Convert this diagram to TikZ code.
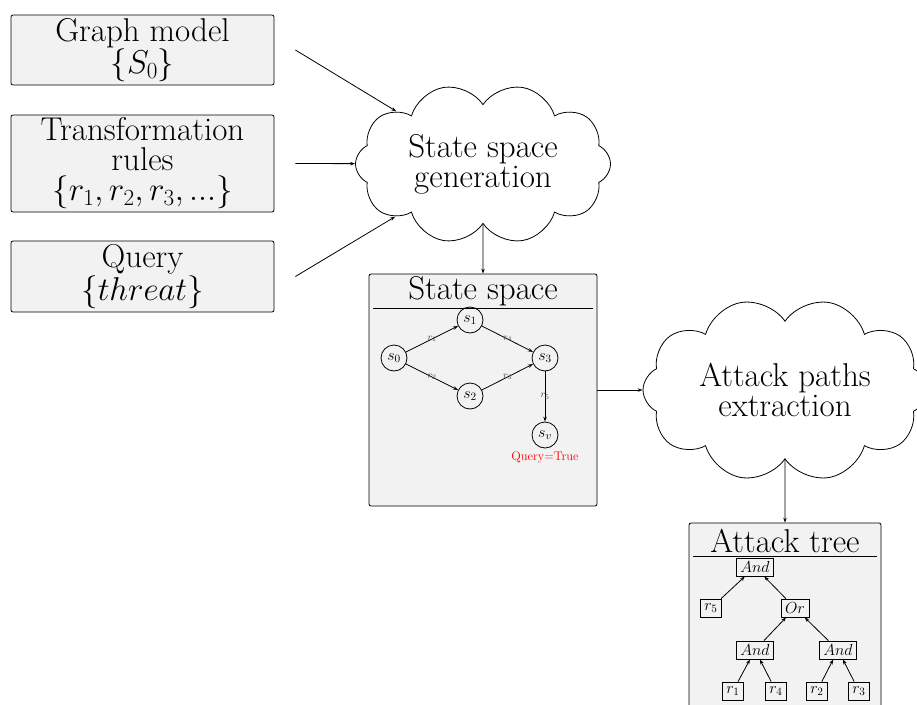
\RequirePackage{fix-cm}
\documentclass[tikz,border=0pt]{standalone}
\usetikzlibrary{shapes.symbols,arrows.meta}
\begin{document}
\begin{tikzpicture}[x=1pt,y=-1pt,line width=0.8pt,
  >={Stealth[length=5pt,width=3.5pt]},
  big/.style={font=\fontsize{33}{30}\selectfont},
  inbox/.style={draw, fill=black!5, rounded corners=2pt, minimum width=263pt, align=center, big, inner sep=1pt},
  cloudnode/.style={cloud, draw, cloud puffs=10, cloud puff arc=130, aspect=0.633, rotate=90, inner sep=0pt},
  cloudtext/.style={align=center, big, inner sep=0pt},
  panel/.style={draw, fill=black!5, rounded corners=2pt},
  st/.style={circle, draw, minimum size=26pt, inner sep=0pt, font=\fontsize{16}{18}\selectfont},
  lab/.style={font=\fontsize{10}{11}\selectfont, text=black!75, inner sep=0pt},
  tn/.style={draw, rectangle, inner sep=1.5pt, minimum height=18pt, font=\fontsize{16}{18}\selectfont},
]
\useasboundingbox (0,0) rectangle (917,704);

% input boxes
\node[inbox, minimum height=70pt] (g) at (142.5,50) {Graph model\\$\{S_0\}$};
\node[inbox, minimum height=97pt] (t) at (142.5,163.5) {Transformation\\rules\\$\{r_1, r_2, r_3, ...\}$};
\node[inbox, minimum height=71pt] (q) at (142.5,276.5) {Query\\$\{threat\}$};

% clouds (rotated so that a puff sits at top and bottom centre)
\node[cloudnode, minimum width=161pt, minimum height=255pt] (c1) at (483,164) {};
\node[cloudtext] (c1t) at (c1.center) {State space\\generation};
\node[cloudnode, minimum width=184pt, minimum height=284pt] (c2) at (785,390) {};
\node[cloudtext] (c2t) at (c2.center) {Attack paths\\extraction};

\draw[->] ([xshift=21pt]g.east) -- (c1);
\draw[->] ([xshift=21pt]t.east) -- (c1);
\draw[->] ([xshift=21pt]q.east) -- (c1);

% state space panel
\node[panel, minimum width=228pt, minimum height=232pt] (ss) at (483,390) {};
\node[big] (sst) at (483,291) {State space};
\draw (373,308) coordinate (ssl1) -- (593,308) coordinate (ssr1);
\draw[->] (c1) -- (ss.north);

\node[st] (s0) at (394,358) {$s_0$};
\node[st] (s1) at (470,320) {$s_1$};
\node[st] (s2) at (470,396) {$s_2$};
\node[st] (s3) at (545,358) {$s_3$};
\node[st] (sv) at (545,435) {$s_v$};
\node[text=red, font=\fontsize{12.5}{14}\selectfont] (qt) at (545,457) {Query=True};

\draw[->] (s0) -- node[lab] {$r_1$} (s1);
\draw[->] (s0) -- node[lab] {$r_2$} (s2);
\draw[->] (s1) -- node[lab] {$r_4$} (s3);
\draw[->] (s2) -- node[lab] {$r_3$} (s3);
\draw[->] (s3) -- node[lab] {$r_5$} (sv);

\draw[->] (ss.east) -- (c2);

% attack tree panel
\node[panel, minimum width=192pt, minimum height=232pt] (at) at (785,639) {};
\node[big] (att) at (785,541) {Attack tree};
\draw (693,556) coordinate (atl1) -- (877,556) coordinate (atr1);
\draw[->] (c2) -- (at.north);

\node[tn, minimum width=37pt] (a1) at (755,567) {$And$};
\node[tn, minimum width=21pt] (r5) at (711,608) {$r_5$};
\node[tn, minimum width=28pt] (or) at (795,608) {$Or$};
\node[tn, minimum width=37pt] (a2) at (755,650) {$And$};
\node[tn, minimum width=37pt] (a3) at (838,650) {$And$};
\node[tn, minimum width=21pt] (r1) at (733,691) {$r_1$};
\node[tn, minimum width=21pt] (r4) at (776,691) {$r_4$};
\node[tn, minimum width=21pt] (r2) at (817,691) {$r_2$};
\node[tn, minimum width=21pt] (r3) at (859,691) {$r_3$};

\draw[->] (r5) -- (a1);
\draw[->] (or) -- (a1);
\draw[->] (a2) -- (or);
\draw[->] (a3) -- (or);
\draw[->] (r1) -- (a2);
\draw[->] (r4) -- (a2);
\draw[->] (r2) -- (a3);
\draw[->] (r3) -- (a3);
\end{tikzpicture}
\end{document}
